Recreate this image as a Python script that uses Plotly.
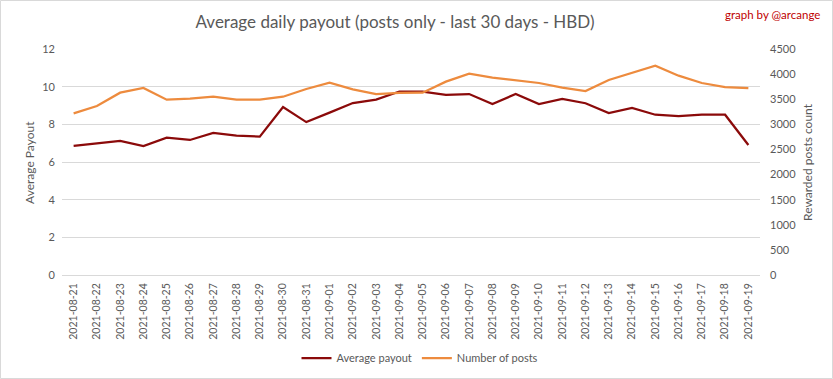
import plotly.graph_objects as go

dates = ["2021-08-21","2021-08-22","2021-08-23","2021-08-24","2021-08-25","2021-08-26","2021-08-27",
         "2021-08-28","2021-08-29","2021-08-30","2021-08-31","2021-09-01","2021-09-02","2021-09-03",
         "2021-09-04","2021-09-05","2021-09-06","2021-09-07","2021-09-08","2021-09-09","2021-09-10",
         "2021-09-11","2021-09-12","2021-09-13","2021-09-14","2021-09-15","2021-09-16","2021-09-17",
         "2021-09-18","2021-09-19"]
avg_payout = [6.85, 6.97, 7.12, 6.85, 7.29, 7.17, 7.54, 7.40, 7.35, 8.92, 8.12, 8.62, 9.13, 9.31,
              9.74, 9.74, 9.56, 9.61, 9.08, 9.61, 9.08, 9.35, 9.12, 8.60, 8.87, 8.51, 8.44, 8.51,
              8.51, 6.90]
num_posts = [3219, 3365, 3630, 3723, 3491, 3511, 3550, 3491, 3491, 3550, 3704, 3830, 3697, 3604,
             3624, 3630, 3850, 4009, 3929, 3883, 3823, 3730, 3664, 3883, 4028, 4168, 3969, 3823,
             3743, 3723]
left_ticks = [0, 2, 4, 6, 8, 10, 12]
right_ticks = [0, 500, 1000, 1500, 2000, 2500, 3000, 3500, 4000, 4500]

W, H = 833, 379
L, R, T, B = 62, 73, 49, 104
pw, ph = W - L - R, H - T - B

FONT = "Lato"
GRAY = "#595959"

fig = go.Figure()
fig.add_trace(go.Scatter(x=dates, y=avg_payout, name="Average payout", mode="lines",
                         line=dict(color="#8B0A0A", width=2.25), yaxis="y"))
fig.add_trace(go.Scatter(x=dates, y=num_posts, name="Number of posts", mode="lines",
                         line=dict(color="#ED8B3E", width=2.25), yaxis="y2"))

def px_x(p):
    return (p - L) / pw

def px_y(p):
    return (H - B - p) / ph

fig.update_layout(
    width=W, height=H,
    margin=dict(l=L, r=R, t=T, b=B, autoexpand=False),
    paper_bgcolor="white", plot_bgcolor="white",
    font=dict(family=FONT, color=GRAY, size=11),
    title=dict(text="Average daily payout (posts only - last 30 days - HBD)",
               x=395 / W, xanchor="center", y=1 - 22 / H, yanchor="middle",
               font=dict(family=FONT, size=17, color=GRAY)),
    xaxis=dict(type="category", range=[-0.5, len(dates) - 0.5], tickangle=-90,
               showgrid=False, zeroline=False,
               showline=True, linecolor="#d9d9d9", linewidth=1,
               tickfont=dict(size=10.5, color=GRAY), ticks="", ticklabelstandoff=3,
               fixedrange=True),
    yaxis=dict(range=[0, 12], tickvals=left_ticks, showgrid=True, gridcolor="#d9d9d9",
               gridwidth=1, zeroline=False, showline=False, ticks="",
               ticklabelstandoff=6, tickfont=dict(size=11, color=GRAY)),
    yaxis2=dict(range=[0, 4500], tickvals=right_ticks, overlaying="y", side="right",
                showgrid=False, zeroline=False, showline=False, ticks="",
                ticklabelstandoff=9, tickfont=dict(size=11, color=GRAY)),
    showlegend=True,
    legend=dict(orientation="h", x=px_x(420), xanchor="center", y=px_y(358), yanchor="middle",
                font=dict(size=11, color=GRAY), bgcolor="rgba(0,0,0,0)", itemwidth=30,
                tracegroupgap=0),
    annotations=[
        dict(text="graph by @arcange", xref="paper", yref="paper", x=px_x(822), y=px_y(14),
             xanchor="right", yanchor="middle", showarrow=False,
             font=dict(family=FONT, size=11.5, color="#C00000")),
        dict(text="Average Payout", xref="paper", yref="paper", x=px_x(29), y=px_y(163),
             xanchor="center", yanchor="middle", textangle=-90, showarrow=False,
             font=dict(family=FONT, size=12, color=GRAY)),
        dict(text="Rewarded posts count", xref="paper", yref="paper", x=px_x(807), y=px_y(162),
             xanchor="center", yanchor="middle", textangle=-90, showarrow=False,
             font=dict(family=FONT, size=12, color=GRAY)),
    ],
    shapes=[
        dict(type="rect", xref="paper", yref="paper",
             x0=px_x(0.5), x1=px_x(W - 0.5), y0=px_y(H - 0.5), y1=px_y(0.5),
             line=dict(color="#d9d9d9", width=1), fillcolor="rgba(0,0,0,0)", layer="below"),
    ],
)

fig.write_html("out.html", config={"displayModeBar": False},
               post_script="document.body.style.margin='0';document.body.style.overflow='hidden';")
